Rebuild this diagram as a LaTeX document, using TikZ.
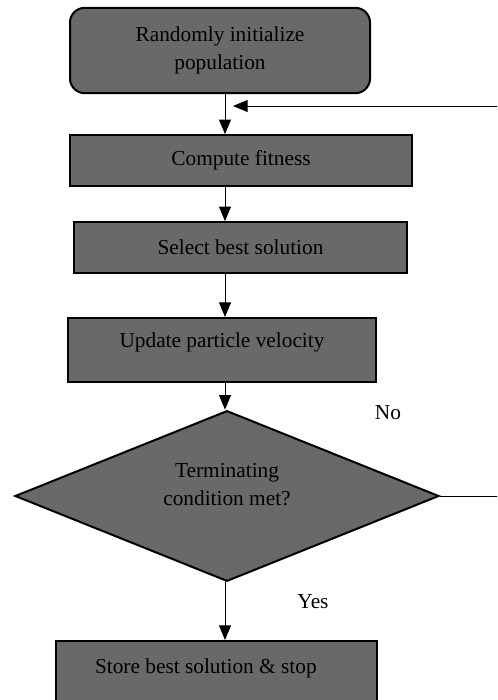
\documentclass[tikz,border=0pt]{standalone}
\usepackage{fontspec}
\setmainfont{Liberation Serif}
\usepackage{tikz}
\usetikzlibrary{arrows.meta,positioning,shapes.geometric}
\usepackage{xcolor}
\definecolor{cbox}{HTML}{696969}

\begin{document}
\begin{tikzpicture}[
  x=0.75pt, y=-0.75pt,
  box/.style={draw, line width=1.5pt, fill=cbox, inner sep=0pt,
              font=\fontsize{16}{21}\selectfont, align=center},
  decision/.style={box, diamond, aspect=2.48, minimum width=318pt, minimum height=128pt},
  arr/.style={-{Triangle[length=11pt,width=9pt]}, line width=0.75pt},
  tag/.style={font=\fontsize{16}{21}\selectfont}
]
\clip (0,0) rectangle (497,700);

\node[box, rounded corners=11pt, minimum width=225pt, minimum height=64pt] (init) at (220,50.5) {Randomly initialize\\population};
\node[box, minimum width=256.5pt, minimum height=38pt] (fit)  at (241,160.5) {Compute fitness};
\node[box, minimum width=250pt, minimum height=38pt]   (best) at (240.5,247.5) {Select best solution};
\node[box, minimum width=231pt, minimum height=48pt, text depth=15pt] (vel) at (222,350) {Update particle velocity};
\node[decision, text depth=18pt] (cond) at (227,496) {Terminating\\condition met?};
\node[box, minimum width=241pt, minimum height=48pt, text depth=10pt] (store) at (216.5,673) {Store best solution \& stop\hspace*{16pt}};

\node[tag] (no)  at (388,413) {No};
\node[tag] (yes) at (313,602) {Yes};

\coordinate (spine) at (225,0);
\coordinate (merge) at (233,106);

\draw[arr] (init.south -| spine) -- (fit.north -| spine);
\draw[arr] (fit.south -| spine) -- (best.north -| spine);
\draw[arr] (best.south -| spine) -- (vel.north -| spine);
\draw[arr] (vel.south -| spine) -- (cond.north -| spine);
\draw[arr] (cond.south -| spine) -- (store.north -| spine);
\draw[arr] (cond.east) -- ++(90,0) |- (merge);
\end{tikzpicture}
\end{document}
